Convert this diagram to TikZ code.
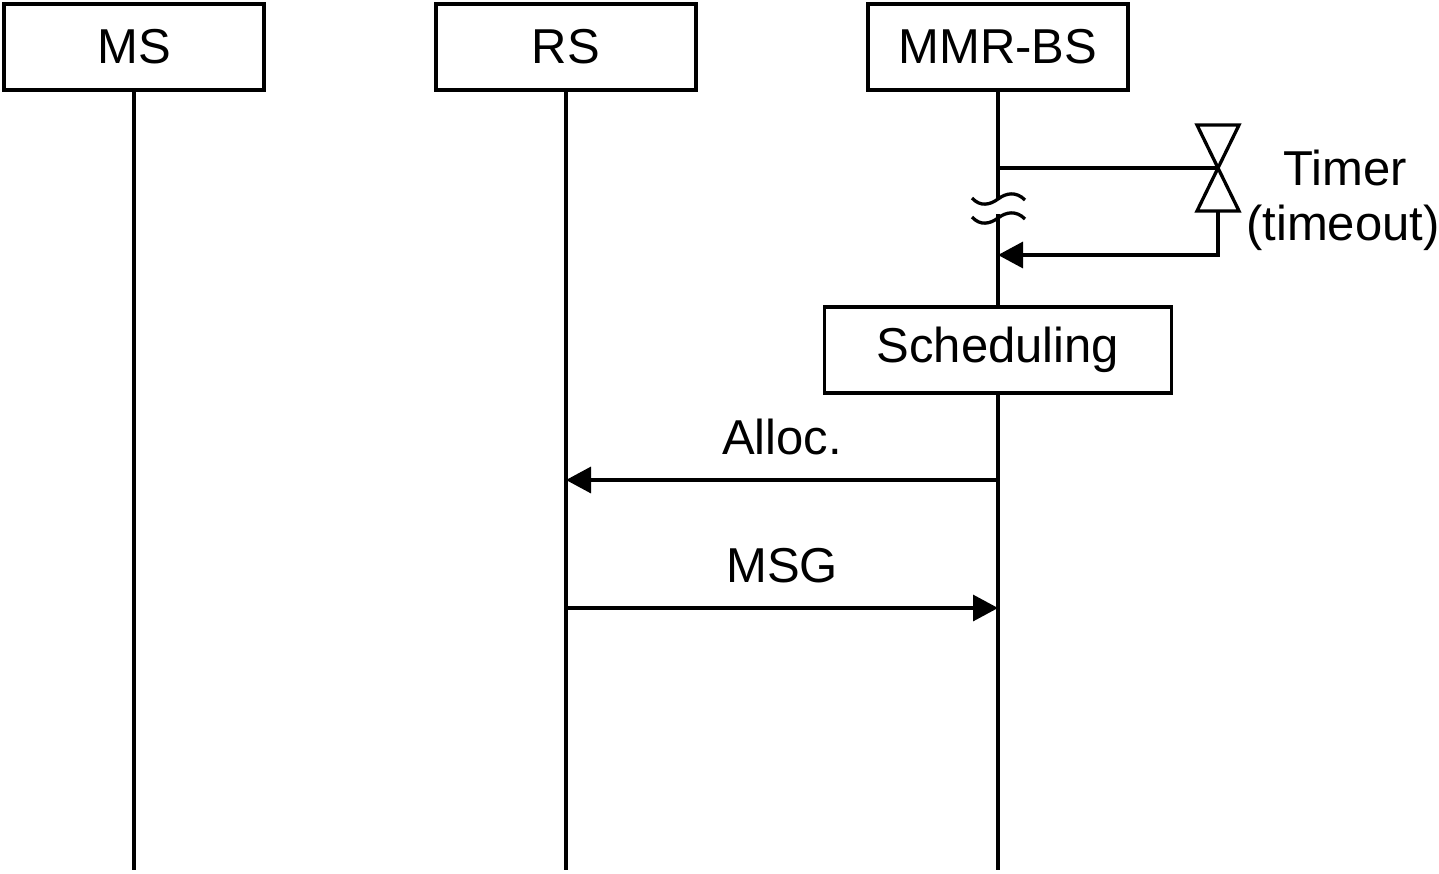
\documentclass[tikz,border=0pt]{standalone}
\usepackage{fontspec}
\setmainfont{Liberation Sans}
\usetikzlibrary{arrows.meta}
\begin{document}
\begin{tikzpicture}[x=1pt,y=-1pt,line width=3.3pt,
  every node/.style={font=\fontsize{49}{58}\selectfont},
  actor/.style={draw,minimum width=260pt,minimum height=86pt,inner sep=0pt},
  procbox/.style={draw,minimum width=347pt,minimum height=86pt,inner sep=0pt},
  msg/.style={-{Triangle[length=25pt,width=26pt]}},
  lbl/.style={anchor=base,inner sep=0pt}]
\useasboundingbox (0,0) rectangle (1439,873);
% actors
\node[actor] (ms) at (134,47) {MS};
\node[actor] (rs) at (566,47) {RS};
\node[actor] (bs) at (998,47) {MMR-BS};
% lifeline ends
\coordinate (msend) at (134,870);
\coordinate (rsend) at (566,870);
\coordinate (bsend) at (998,870);
\coordinate (brk1) at (998,200);
\coordinate (brk2) at (998,214);
\draw (ms.south) -- (msend);
\draw (rs.south) -- (rsend);
\draw (bs.south) -- (brk1);
\draw (brk2) -- (bsend);
% break marks
\draw (972,198) .. controls (980,207) and (990,205) .. (998,199) .. controls (1006,193) and (1016,191) .. (1025,200);
\draw (972,217) .. controls (980,226) and (990,224) .. (998,218) .. controls (1006,212) and (1016,210) .. (1025,219);
% timer
\coordinate (tstart) at (998,168);
\coordinate (tc) at (1218,168);
\coordinate (tbot) at (1218,211);
\coordinate (tcorner) at (1218,255);
\coordinate (tret) at (998,255);
\draw (tstart) -- (tc);
\draw[line join=miter] (tc) -- (1197,125) -- (1239,125) -- cycle;
\draw[line join=miter] (tc) -- (1197,211) -- (1239,211) -- cycle;
\draw[msg] (tbot) -- (tcorner) -- (tret);
\node[lbl] (timer) at (1345,185) {Timer};
\node[lbl] (timeout) at (1343,240) {(timeout)};
% scheduling
\node[procbox,fill=white] (sched) at (998,350) {Scheduling};
% messages
\coordinate (a1) at (998,480);
\coordinate (a2) at (566,480);
\draw[msg] (a1) -- (a2);
\node[lbl] (alloc) at (782,454) {Alloc.};
\coordinate (m1) at (566,608);
\coordinate (m2) at (998,608);
\draw[msg] (m1) -- (m2);
\node[lbl] (msgl) at (782,582) {MSG};
\end{tikzpicture}
\end{document}
